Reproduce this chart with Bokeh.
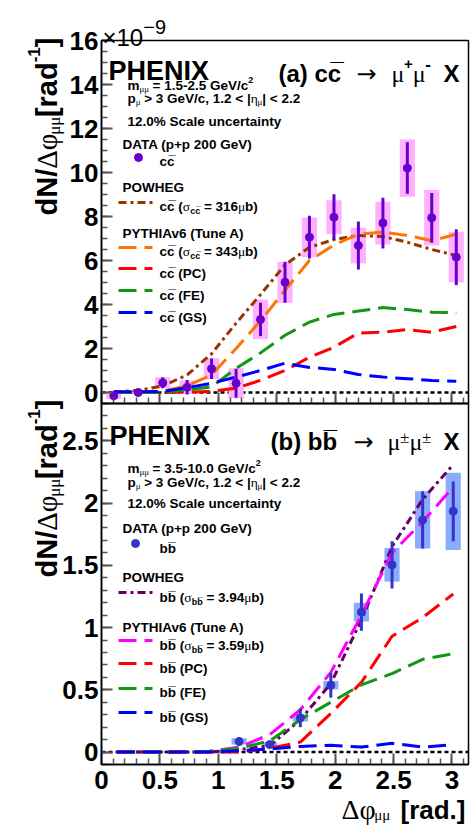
import math
from bokeh.plotting import figure
from bokeh.models import (Label, FixedTicker, Range1d, ColumnDataSource, CustomJSTickFormatter,
                          LinearAxis, BoxAnnotation)
from bokeh.embed import file_html
from bokeh.resources import INLINE

PI = math.pi

# ---------------- panel (a): c cbar -> mu+ mu- X   (values in units of 1e-9 rad^-1)
cc_dphi = [0.105, 0.314, 0.524, 0.733, 0.942, 1.152, 1.361, 1.571, 1.780, 1.990, 2.199, 2.409, 2.618, 2.827, 3.037]
cc_data = [-0.15, 0.00, 0.44, 0.24, 1.08, 0.42, 3.32, 5.01, 7.06, 7.97, 6.68, 7.70, 10.20, 7.94, 6.15]
cc_stat = [0.20, 0.05, 0.25, 0.33, 0.47, 0.66, 0.76, 0.93, 0.97, 1.04, 1.09, 1.15, 1.17, 1.13, 1.27]
cc_sys = [0.15, 0.05, 0.25, 0.30, 0.48, 0.68, 0.90, 0.93, 0.90, 0.77, 0.81, 0.97, 1.30, 1.26, 1.14]
cc_powheg = [0.03, 0.09, 0.30, 0.80, 1.76, 3.15, 4.45, 5.80, 6.60, 6.95, 7.14, 7.09, 6.83, 6.50, 6.23]
cc_pythia = [0.02, 0.03, 0.07, 0.30, 0.80, 2.00, 3.25, 4.65, 6.00, 6.70, 7.20, 7.29, 7.14, 6.90, 7.20]
cc_pc = [0.00, 0.00, 0.00, 0.02, 0.05, 0.20, 0.55, 1.00, 1.60, 2.06, 2.70, 2.74, 2.86, 2.74, 3.00]
cc_fe = [0.00, 0.00, 0.02, 0.12, 0.25, 1.10, 1.80, 2.60, 3.20, 3.55, 3.70, 3.86, 3.77, 3.65, 3.63]
cc_gs = [0.03, 0.03, 0.05, 0.22, 0.42, 0.70, 1.00, 1.33, 1.14, 1.05, 0.82, 0.70, 0.63, 0.55, 0.51]

# ---------------- panel (b): b bbar -> mu+- mu+- X
bb_dphi = [0.131, 0.393, 0.654, 0.916, 1.178, 1.440, 1.702, 1.963, 2.225, 2.487, 2.749, 3.011]
bb_powheg = [0.0, 0.0, 0.0, 0.0, 0.02, 0.05, 0.26, 0.55, 1.06, 1.65, 2.03, 2.31]
bb_pythia = [0.0, 0.0, 0.0, 0.005, 0.04, 0.14, 0.34, 0.64, 1.10, 1.60, 1.85, 2.13]
bb_pc = [0.0, 0.0, 0.0, 0.0, 0.0, 0.03, 0.08, 0.31, 0.56, 0.93, 1.08, 1.27]
bb_fe = [0.0, 0.0, 0.0, 0.005, 0.03, 0.09, 0.26, 0.40, 0.54, 0.63, 0.745, 0.79]
bb_gs = [0.0, 0.0, 0.0, 0.0, 0.01, 0.025, 0.045, 0.055, 0.04, 0.07, 0.04, 0.06]
bb_data_dphi = [1.178, 1.440, 1.702, 1.963, 2.225, 2.487, 2.749, 3.011]
bb_data = [0.085, 0.060, 0.275, 0.537, 1.124, 1.504, 1.865, 1.934]
bb_stat = [0.035, 0.030, 0.075, 0.10, 0.15, 0.19, 0.23, 0.24]
bb_sys = [0.025, 0.020, 0.030, 0.035, 0.075, 0.135, 0.23, 0.31]

# ---------------- ticks
x_ticks = [0, 0.5, 1, 1.5, 2, 2.5, 3]
x_tick_labels = ["0", "0.5", "1", "1.5", "2", "2.5", "3"]
x_minor = [round(0.1 * i, 2) for i in range(32)]
cc_y_ticks = [0, 2, 4, 6, 8, 10, 12, 14, 16]
cc_y_tick_labels = ["0", "2", "4", "6", "8", "10", "12", "14", "16"]
cc_y_minor = [round(-0.5 + 0.5 * i, 2) for i in range(34)]
bb_y_ticks = [0, 0.5, 1, 1.5, 2, 2.5]
bb_y_tick_labels = ["0", "0.5", "1", "1.5", "2", "2.5"]
bb_y_minor = [round(-0.1 + 0.1 * i, 2) for i in range(30)]

# ---------------- geometry (page pixels)
W, H = 471, 829
FL, FR = 101, 468
TOP_T, TOP_B = 40, 403
BOT_T, BOT_B = 403, 764
CC_RANGE = (-0.5, 16.0)
BB_RANGE = (-0.1, 2.8)


def tx(X):
    return (X - FL) / (FR - FL) * PI


def T(Y):
    return CC_RANGE[1] - (Y - TOP_T) / (TOP_B - TOP_T) * (CC_RANGE[1] - CC_RANGE[0])


def B(Y):
    return BB_RANGE[1] - (Y - BOT_T) / (BOT_B - BOT_T) * (BB_RANGE[1] - BB_RANGE[0])


# ---------------- text width estimates (Helvetica metrics, per 1000 em)
HB = dict(zip(" !%()+,-./:<=>|[]", [278, 333, 889, 333, 333, 584, 278, 333, 278, 278, 333, 584, 584, 584, 280, 333, 333]))
HB.update({d: 556 for d in "0123456789"})
HB.update(dict(zip("ABCDEFGHIJKLMNOPQRSTUVWXYZ", [722, 722, 722, 722, 667, 611, 778, 722, 278, 556, 722, 611, 833, 722, 778, 667, 778, 722, 667, 611, 722, 667, 944, 667, 667, 611])))
HB.update(dict(zip("abcdefghijklmnopqrstuvwxyz", [556, 611, 556, 611, 556, 333, 611, 611, 278, 278, 556, 278, 889, 611, 611, 611, 611, 389, 556, 333, 611, 556, 778, 556, 556, 500])))
HR = {" ": 278, "×": 584, "−": 584, "-": 333}
HR.update({d: 556 for d in "0123456789"})
GR = {"μ": 520, "φ": 560, "Δ": 612, "σ": 550, "η": 500, "±": 564, " ": 250}
FONTS = {"b": ("Liberation Sans", "bold", HB), "r": ("Liberation Sans", "normal", HR),
         "g": ("Liberation Serif", "normal", GR), "d": ("DejaVu Sans", "normal", {"→": 838, " ": 318})}


def tw(text, size, fk):
    table = FONTS[fk][2]
    return sum(table.get(ch, 556) for ch in text if ch not in "\u0305\u0304") * size / 1000.0


p = figure(width=W, height=H, x_range=Range1d(tx(0), tx(W)), y_range=Range1d(T(H), T(0)),
           min_border=0, x_axis_location=None, y_axis_location=None,
           output_backend="svg", toolbar_location=None)
p.extra_y_ranges = {"bot": Range1d(B(H), B(0))}
p.xgrid.visible = False
p.ygrid.visible = False
p.outline_line_color = None
p.background_fill_color = "white"
p.border_fill_color = "white"


def rich(X, Y, segs, angle=0.0, color="black"):
    adv = 0.0
    for text, size, fk, dy in segs:
        font, style, _ = FONTS[fk]
        body = text.lstrip(" ")
        lead = tw(text[: len(text) - len(body)], size, fk)
        a = adv + lead
        if angle:
            sx, sy = X + dy, Y - a
        else:
            sx, sy = X + a, Y + dy
        if body.strip():
            p.add_layout(Label(x=tx(sx), y=T(sy), text=body.rstrip(" "), text_font=font,
                               text_font_style=style, text_font_size=f"{size}px", text_color=color,
                               text_align="left", text_baseline="alphabetic", angle=angle))
        adv += tw(text, size, fk)


FMT = "const i = tv.findIndex(t => Math.abs(t - tick) < 1e-9); return i >= 0 ? tl[i] : '';"


def add_axis(side, rname, loc, bounds, ticks, labels, minor, standoff, font_size="26px"):
    ax = LinearAxis(y_range_name=rname, fixed_location=loc, bounds=bounds)
    ax.ticker = FixedTicker(ticks=ticks, minor_ticks=minor)
    ax.formatter = CustomJSTickFormatter(args=dict(tv=ticks, tl=labels), code=FMT)
    ax.major_tick_in = 11
    ax.major_tick_out = 0
    ax.minor_tick_in = 6
    ax.minor_tick_out = 0
    ax.axis_line_color = "#6e6e6e"
    ax.axis_line_width = 2
    ax.major_tick_line_color = "#555555"
    ax.major_tick_line_width = 2
    ax.minor_tick_line_color = "#555555"
    ax.minor_tick_line_width = 1.5
    ax.major_label_text_font = "Liberation Sans"
    ax.major_label_text_font_style = "bold"
    ax.major_label_text_font_size = font_size
    ax.major_label_text_color = "black"
    ax.major_label_standoff = standoff
    p.add_layout(ax, side)


def legend_line(Y, color, dash):
    p.line([tx(118), tx(152)], [T(Y), T(Y)], line_color=color, line_width=3, line_dash=dash)


DASH = "18 8"
DASHDOT = "8 4 3 4"
CC_PT, CC_BOX = "#6600cc", "#ffb0ff"
BB_PT, BB_BOX = "#3434c8", "#8aacff"
BROWN, PURPLE = "#993300", "#660066"
ORANGE, MAGENTA = "#ff7400", "#ff00ff"
RED, GREEN, BLUE = "#ff0000", "#149614", "#0000ff"

# ================= top panel (a)
p.segment(x0=0, y0=0, x1=PI, y1=0, line_color="black", line_width=2.5, line_dash="4 3")
s1 = ColumnDataSource(dict(x=cc_dphi, y=cc_data,
                           lo=[v - e for v, e in zip(cc_data, cc_stat)], hi=[v + e for v, e in zip(cc_data, cc_stat)],
                           sh=[2 * s for s in cc_sys]))
p.rect(x="x", y="y", width=0.13, height="sh", source=s1, fill_color=CC_BOX, line_color=None)
p.line(cc_dphi, cc_powheg, line_color=BROWN, line_width=3, line_dash=DASHDOT)
p.line(cc_dphi, cc_pythia, line_color=ORANGE, line_width=3, line_dash=DASH)
p.line(cc_dphi, cc_pc, line_color=RED, line_width=3, line_dash=DASH)
p.line(cc_dphi, cc_fe, line_color=GREEN, line_width=3, line_dash=DASH)
p.line(cc_dphi, cc_gs, line_color=BLUE, line_width=3, line_dash=DASH)
p.segment(x0="x", y0="lo", x1="x", y1="hi", source=s1, line_color=CC_PT, line_width=3)
p.scatter(x="x", y="y", source=s1, size=8, fill_color=CC_PT, line_color=CC_PT)
p.add_layout(BoxAnnotation(left=0, right=PI, bottom=CC_RANGE[0], top=CC_RANGE[1], fill_alpha=0,
                           line_color="black", line_width=1.5, line_alpha=1))
add_axis("left", "default", 0, CC_RANGE, cc_y_ticks, cc_y_tick_labels, cc_y_minor, 3)
add_axis("below", "default", CC_RANGE[0], (0, PI), x_ticks, [""] * len(x_ticks), x_minor, 0, "1px")

# ================= bottom panel (b)
p.segment(x0=0, y0=0, x1=PI, y1=0, y_range_name="bot", line_color="black", line_width=2.5, line_dash="4 3")
s2 = ColumnDataSource(dict(x=bb_data_dphi, y=bb_data,
                           lo=[v - e for v, e in zip(bb_data, bb_stat)], hi=[v + e for v, e in zip(bb_data, bb_stat)],
                           sh=[2 * s for s in bb_sys]))
p.rect(x="x", y="y", width=0.13, height="sh", source=s2, y_range_name="bot", fill_color=BB_BOX, line_color=None)
p.line(bb_dphi, bb_powheg, y_range_name="bot", line_color=PURPLE, line_width=3, line_dash=DASHDOT)
p.line(bb_dphi, bb_pythia, y_range_name="bot", line_color=MAGENTA, line_width=3, line_dash=DASH)
p.line(bb_dphi, bb_pc, y_range_name="bot", line_color=RED, line_width=3, line_dash=DASH)
p.line(bb_dphi, bb_fe, y_range_name="bot", line_color=GREEN, line_width=3, line_dash=DASH)
p.line(bb_dphi, bb_gs, y_range_name="bot", line_color=BLUE, line_width=3, line_dash=DASH)
p.segment(x0="x", y0="lo", x1="x", y1="hi", source=s2, y_range_name="bot", line_color=BB_PT, line_width=3)
p.scatter(x="x", y="y", source=s2, y_range_name="bot", size=8, fill_color=BB_PT, line_color=BB_PT)
p.add_layout(BoxAnnotation(left=0, right=PI, bottom=BB_RANGE[0], top=BB_RANGE[1], y_range_name="bot",
                           fill_alpha=0, line_color="black", line_width=1.5, line_alpha=1))
add_axis("left", "bot", 0, BB_RANGE, bb_y_ticks, bb_y_tick_labels, bb_y_minor, 3)
add_axis("below", "bot", BB_RANGE[0], (0, PI), x_ticks, x_tick_labels, x_minor, 6)

# ================= texts, panel (a)
rich(102, 37, [("×10", 24, "r", 0), ("−9", 20, "r", -11)])
rich(46, 215, [("dN/", 29, "b", 0), ("Δφ", 29, "g", 0), ("μμ", 17, "g", 8), ("[rad", 29, "b", 0),
               ("-1", 17, "b", -13), ("]", 29, "b", 0)], angle=PI / 2)
rich(108, 70, [("PHENIX", 27, "b", 0)])
rich(278, 73, [("(a) cc\u0305", 24, "b", 0)])
rich(356, 73, [("→", 24, "d", 0)])
rich(391, 73, [("μ", 24, "g", 0), ("+", 15, "b", -10), ("μ", 24, "g", 0), ("-", 17, "b", -10)])
rich(443, 73, [("X", 24, "b", 0)])
rich(127, 85, [("m", 13.5, "b", 0), ("μμ", 9, "g", 3), (" = 1.5-2.5 GeV/c", 13.5, "b", 0), ("2", 9, "b", -6)])
rich(127, 98, [("p", 13.5, "b", 0), ("μ", 9, "g", 3), (" > 3 GeV/c, 1.2 < |", 13.5, "b", 0), ("η", 13.5, "g", 0),
               ("μ", 9, "g", 3), ("| < 2.2", 13.5, "b", 0)])
rich(127, 121, [("12.0% Scale uncertainty", 13.5, "b", 0)])
rich(122, 144, [("DATA (p+p 200 GeV)", 13.5, "b", 0)])
p.scatter([tx(138)], [T(157)], size=8, fill_color=CC_PT, line_color=CC_PT)
rich(159, 161, [("cc\u0305", 13.5, "b", 0)])
rich(122, 187, [("POWHEG", 13.5, "b", 0)])
legend_line(202, BROWN, DASHDOT)
rich(159, 206, [("cc\u0305 (", 13.5, "b", 0), ("σ", 13.5, "g", 0), ("cc\u0305", 9, "b", 4),
                (" = 316", 13.5, "b", 0), ("μ", 13.5, "g", 0), ("b)", 13.5, "b", 0)])
rich(122, 233, [("PYTHIAv6 (Tune A)", 13.5, "b", 0)])
legend_line(247, ORANGE, DASH)
rich(159, 251, [("cc\u0305 (", 13.5, "b", 0), ("σ", 13.5, "g", 0), ("cc\u0305", 9, "b", 4),
                (" = 343", 13.5, "b", 0), ("μ", 13.5, "g", 0), ("b)", 13.5, "b", 0)])
legend_line(268, RED, DASH)
rich(159, 273, [("cc\u0305 (PC)", 13.5, "b", 0)])
legend_line(290, GREEN, DASH)
rich(159, 295, [("cc\u0305 (FE)", 13.5, "b", 0)])
legend_line(312, BLUE, DASH)
rich(159, 317, [("cc\u0305 (GS)", 13.5, "b", 0)])

# ================= texts, panel (b)
rich(46, 577, [("dN/", 29, "b", 0), ("Δφ", 29, "g", 0), ("μμ", 17, "g", 8), ("[rad", 29, "b", 0),
               ("-1", 17, "b", -13), ("]", 29, "b", 0)], angle=PI / 2)
rich(109, 435, [("PHENIX", 27, "b", 0)])
rich(270, 441, [("(b) bb\u0305", 24, "b", 0)])
rich(353, 441, [("→", 24, "d", 0)])
rich(387, 441, [("μ", 24, "g", 0), ("±", 17, "g", -4), ("μ", 24, "g", 0), ("±", 17, "g", -4)])
rich(443, 441, [("X", 24, "b", 0)])
rich(127, 468, [("m", 13.5, "b", 0), ("μμ", 9, "g", 3), (" = 3.5-10.0 GeV/c", 13.5, "b", 0), ("2", 9, "b", -6)])
rich(127, 482, [("p", 13.5, "b", 0), ("μ", 9, "g", 3), (" > 3 GeV/c, 1.2 < |", 13.5, "b", 0), ("η", 13.5, "g", 0),
                ("μ", 9, "g", 3), ("| < 2.2", 13.5, "b", 0)])
rich(127, 503, [("12.0% Scale uncertainty", 13.5, "b", 0)])
rich(122, 528, [("DATA (p+p 200 GeV)", 13.5, "b", 0)])
p.scatter([tx(135)], [T(543)], size=8, fill_color=BB_PT, line_color=BB_PT)
rich(159, 548, [("bb\u0305", 13.5, "b", 0)])
rich(122, 577, [("POWHEG", 13.5, "b", 0)])
legend_line(592, PURPLE, DASHDOT)
rich(159, 597, [("bb\u0305 (", 13.5, "b", 0), ("σ", 13.5, "g", 0), ("bb\u0305", 9, "b", 4),
                (" = 3.94", 13.5, "b", 0), ("μ", 13.5, "g", 0), ("b)", 13.5, "b", 0)])
rich(122, 627, [("PYTHIAv6 (Tune A)", 13.5, "b", 0)])
legend_line(640, MAGENTA, DASH)
rich(159, 645, [("bb\u0305 (", 13.5, "b", 0), ("σ", 13.5, "g", 0), ("bb\u0305", 9, "b", 4),
                (" = 3.59", 13.5, "b", 0), ("μ", 13.5, "g", 0), ("b)", 13.5, "b", 0)])
legend_line(663, RED, DASH)
rich(159, 668, [("bb\u0305 (PC)", 13.5, "b", 0)])
legend_line(688, GREEN, DASH)
rich(159, 692, [("bb\u0305 (FE)", 13.5, "b", 0)])
legend_line(712, BLUE, DASH)
rich(159, 717, [("bb\u0305 (GS)", 13.5, "b", 0)])
rich(341, 809, [("Δφ", 28, "g", 0), ("μμ", 15, "g", 5)])
rich(400, 809, [("[rad.]", 26, "b", 0)])

open("out.html", "w").write(file_html(p, INLINE))
